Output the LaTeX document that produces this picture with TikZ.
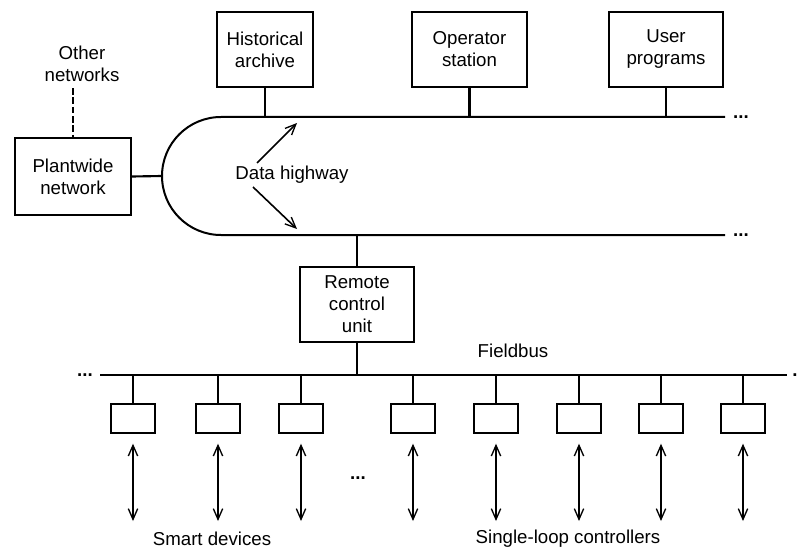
\documentclass[tikz,border=0pt]{standalone}
\usepackage{fontspec}
\setmainfont{Liberation Sans}
\usetikzlibrary{arrows.meta}
\begin{document}
\begin{tikzpicture}[x=0.75pt,y=-0.75pt,
  every node/.style={font=\fontsize{14}{16.5}\selectfont},
  box/.style={draw,line width=1.3pt,inner sep=0pt,align=center},
  bigbox/.style={box,minimum height=56pt},
  smallbox/.style={box,minimum width=32.5pt,minimum height=21.5pt},
  wire/.style={line width=1.6pt},
  bus/.style={line width=1.5pt},
  dots/.style={inner sep=0pt,font=\bfseries\fontsize{14}{16.5}\selectfont},
  dbl/.style={line width=1.4pt,{Straight Barb[length=8pt,width=7pt,line width=1pt]}-{Straight Barb[length=8pt,width=7pt,line width=1pt]}},
  ptr/.style={line width=1.2pt,-{Straight Barb[length=8pt,width=7pt,line width=1pt]}},
  lbl/.style={inner sep=0pt}]
\useasboundingbox (0,0) rectangle (799,549);

% top boxes
\node[bigbox,minimum width=72pt] (hist) at (265,49.5) {Historical\\archive};
\node[bigbox,minimum width=86pt] (oper) at (469.5,49.5) {Operator\\station};
\node[bigbox,minimum width=85.5pt] (user) at (666,49.5) {User\\programs};

% plantwide
\node[bigbox,minimum width=87pt,minimum height=57.5pt] (pw) at (73,176.5) {Plantwide\\network};
\node[lbl,align=center] (other) at (82,64) {Other\\networks};

% data highway
\coordinate (hwTL) at (221,117);
\coordinate (hwTR) at (725,117);
\coordinate (hwBL) at (221,235);
\coordinate (hwBR) at (725,235);
\coordinate (hwL) at (162,176);
\draw[bus] (hwTR) -- (hwTL) arc[start angle=270,end angle=90,radius=59] -- (hwBR);
\node[dots] (dotsT) at (741,117) {...};
\node[dots] (dotsB) at (741,235) {...};

\draw[wire] (hist.south) -- (hist.south |- hwTL);
\draw[wire] (oper.south) -- (oper.south |- hwTL);
\draw[wire] (user.south) -- (user.south |- hwTL);
\draw[wire] (pw.east) -- (hwL);
\draw[wire,dashed,dash pattern=on 5pt off 2pt] (other.south -| pw.north) ++(0,6) -- (pw.north);

\node[lbl] (dh) at (292,175) {Data highway};
\coordinate (a1s) at (257,163);
\coordinate (a1e) at (297,123);
\coordinate (a2s) at (253,187);
\coordinate (a2e) at (297,229);
\draw[ptr] (a1s) -- (a1e);
\draw[ptr] (a2s) -- (a2e);

% remote control unit
\node[bigbox,minimum width=86pt] (rcu) at (357,304.5) {Remote\\control\\unit};
\coordinate (fbL) at (100,375);
\coordinate (fbR) at (787,375);
\draw[wire] (rcu.north) -- (rcu.north |- hwBL);
\draw[wire] (rcu.south) -- (rcu.south |- fbL);
\draw[bus] (fbL) -- (fbR);
\node[dots] (fbdotsL) at (85,375) {...};
\node[dots] (fbdotsR) at (795,375) {.};
\node[lbl] (fb) at (513,351) {Fieldbus};

% small boxes
\foreach \i/\x in {1/133,2/218,3/301,4/413,5/496,6/579,7/661,8/743}{
  \node[smallbox] (b\i) at (\x,418.5) {};
  \draw[wire] (b\i.north) -- (b\i.north |- fbL);
  \coordinate (d\i) at (\x,521);
  \draw[dbl] ([yshift=-7.5pt]b\i.south) -- (d\i);
}
\node[dots] (middots) at (358,478) {...};

\node[lbl] (smart) at (212,539) {Smart devices};
\node[lbl] (slc) at (568,539) {Single-loop controllers};
\end{tikzpicture}
\end{document}
